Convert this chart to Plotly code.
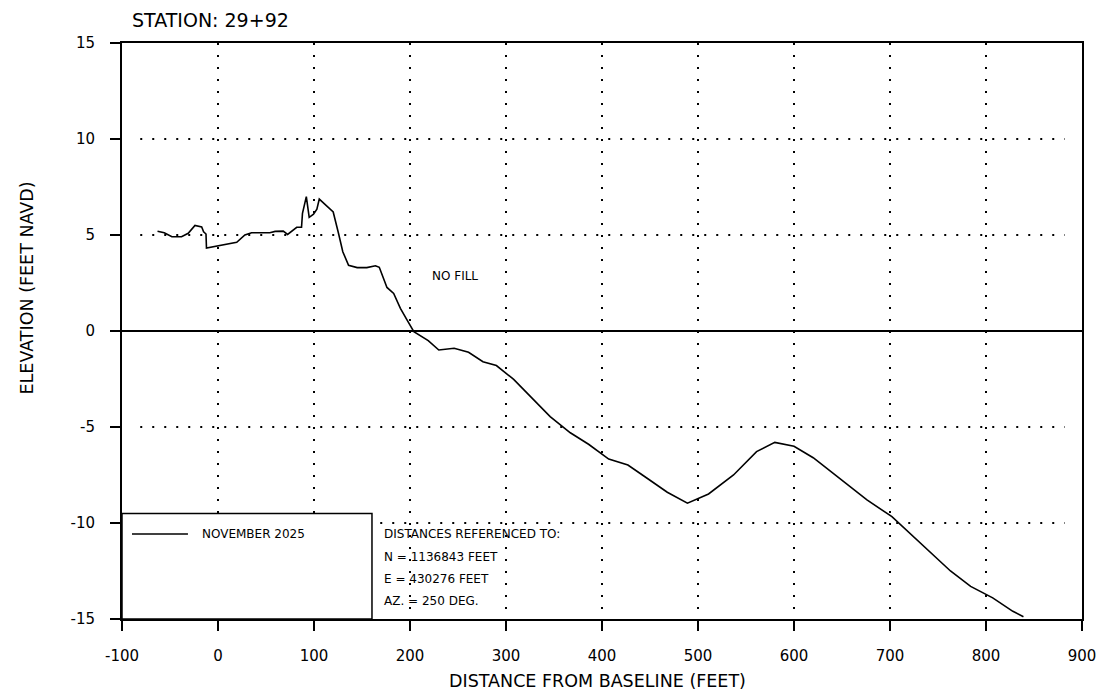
import plotly.graph_objects as go

# ---- data ----
distance_ft = [-63, -56, -48, -38, -31, -24, -17, -15, -12.5, -12, 19.5, 28, 35, 54, 59.5, 68, 72.5,
               82, 87, 88, 92, 95, 99.5, 103, 105.5, 120, 125.5, 130, 136, 145, 155, 164, 168, 176,
               183, 190, 197, 204, 219, 230, 246, 261, 276, 290, 308, 327, 346, 367, 386, 407, 427,
               447, 468, 489, 511, 537, 561, 580, 600, 620, 676, 702, 739, 763, 784, 807, 828, 839]
elevation_ft = [5.2, 5.12, 4.91, 4.91, 5.09, 5.5, 5.42, 5.17, 5.05, 4.32, 4.62, 5.0, 5.12, 5.12, 5.19,
                5.2, 5.03, 5.4, 5.4, 6.13, 7.0, 5.92, 6.08, 6.34, 6.87, 6.2, 5.09, 4.13, 3.42, 3.3,
                3.3, 3.4, 3.32, 2.27, 1.96, 1.18, 0.57, -0.03, -0.5, -0.99, -0.9, -1.11, -1.6, -1.8,
                -2.52, -3.51, -4.46, -5.3, -5.9, -6.67, -6.98, -7.67, -8.4, -8.97, -8.49, -7.5, -6.28,
                -5.8, -6.0, -6.6, -8.8, -9.67, -11.4, -12.5, -13.3, -13.9, -14.6, -14.88]
series_name = "NOVEMBER 2025"
x_ticks = [-100, 0, 100, 200, 300, 400, 500, 600, 700, 800, 900]
y_ticks = [-15, -10, -5, 0, 5, 10, 15]
hgrid_values = [10, 5, -5, -10]
title_text = "STATION: 29+92"
x_title = "DISTANCE FROM BASELINE (FEET)"
y_title = "ELEVATION (FEET NAVD)"
note_text = "NO FILL"
ref_lines = ["DISTANCES REFERENCED TO:", "N = 1136843 FEET", "E = 430276 FEET", "AZ. = 250 DEG."]

FONT = "DejaVu Sans, Verdana, sans-serif"
X_RANGE = [-100, 900]
Y_RANGE = [-15, 15]

fig = go.Figure()
fig.add_trace(go.Scatter(x=distance_ft, y=elevation_ft, mode="lines", name=series_name,
                         line=dict(color="black", width=1.6), showlegend=False,
                         hoverinfo="skip"))

axis_common = dict(showline=True, linecolor="black", linewidth=2, mirror=True,
                   ticks="outside", ticklen=10, tickwidth=2, tickcolor="black",
                   automargin=False,
                   tickfont=dict(family=FONT, size=15, color="black"))

fig.update_xaxes(range=X_RANGE, tickvals=x_ticks, ticktext=[str(v) for v in x_ticks],
                 showgrid=True, gridcolor="black", gridwidth=2, griddash="2px,10px",
                 zeroline=False, ticklabelstandoff=12, **axis_common)
fig.update_yaxes(range=Y_RANGE, tickvals=y_ticks, ticktext=[str(v) for v in y_ticks],
                 showgrid=False, zeroline=True, zerolinecolor="black", zerolinewidth=2,
                 ticklabelstandoff=12, **axis_common)

shapes = []
for v in hgrid_values:
    shapes.append(dict(type="line", xref="x", yref="y", x0=-81, x1=882, y0=v, y1=v,
                       line=dict(color="black", width=2, dash="2px,10px"), layer="below"))
# legend box
shapes.append(dict(type="rect", xref="x", yref="y", x0=-100, x1=160.4, y0=-15, y1=-9.5,
                   fillcolor="white", line=dict(color="black", width=1.5), layer="above"))
# legend line sample
shapes.append(dict(type="line", xref="x", yref="y", x0=-89.6, x1=-31.3, y0=-10.57, y1=-10.57,
                   line=dict(color="black", width=1.6), layer="above"))

annotations = [
    dict(text=series_name, xref="x", yref="y", x=-18.8, y=-10.57, xanchor="left",
         yanchor="middle", showarrow=False, font=dict(family=FONT, size=12, color="black")),
    dict(text=note_text, xref="x", yref="y", x=221, y=2.86, xanchor="left", yanchor="middle",
         showarrow=False, font=dict(family=FONT, size=12, color="black")),
    dict(text=title_text, xref="paper", yref="paper", x=0.0083, y=1.0405, xanchor="left",
         yanchor="middle", showarrow=False, font=dict(family=FONT, size=19, color="black")),
    dict(text=x_title, xref="paper", yref="paper", x=0.4953, y=-0.1085, xanchor="center",
         yanchor="middle", showarrow=False, font=dict(family=FONT, size=17.5, color="black")),
    dict(text=y_title, xref="paper", yref="paper", x=-0.099, y=0.5755, xanchor="center",
         yanchor="middle", textangle=-90, showarrow=False,
         font=dict(family=FONT, size=17.5, color="black")),
]
ref_y = [-10.57, -11.75, -12.92, -14.06]
for txt, yy in zip(ref_lines, ref_y):
    annotations.append(dict(text=txt, xref="x", yref="y", x=170.8, y=yy, xanchor="left",
                            yanchor="middle", showarrow=False,
                            font=dict(family=FONT, size=12, color="black")))

fig.update_layout(width=1102, height=698, autosize=False,
                  margin=dict(l=122, r=20, t=43, b=79, autoexpand=False),
                  paper_bgcolor="white", plot_bgcolor="white", shapes=shapes,
                  annotations=annotations, font=dict(family=FONT, color="black"),
                  hovermode=False)

fig.write_html("out.html", config={"displayModeBar": False},
               post_script="document.body.style.margin='0';document.body.style.overflow='hidden';")
